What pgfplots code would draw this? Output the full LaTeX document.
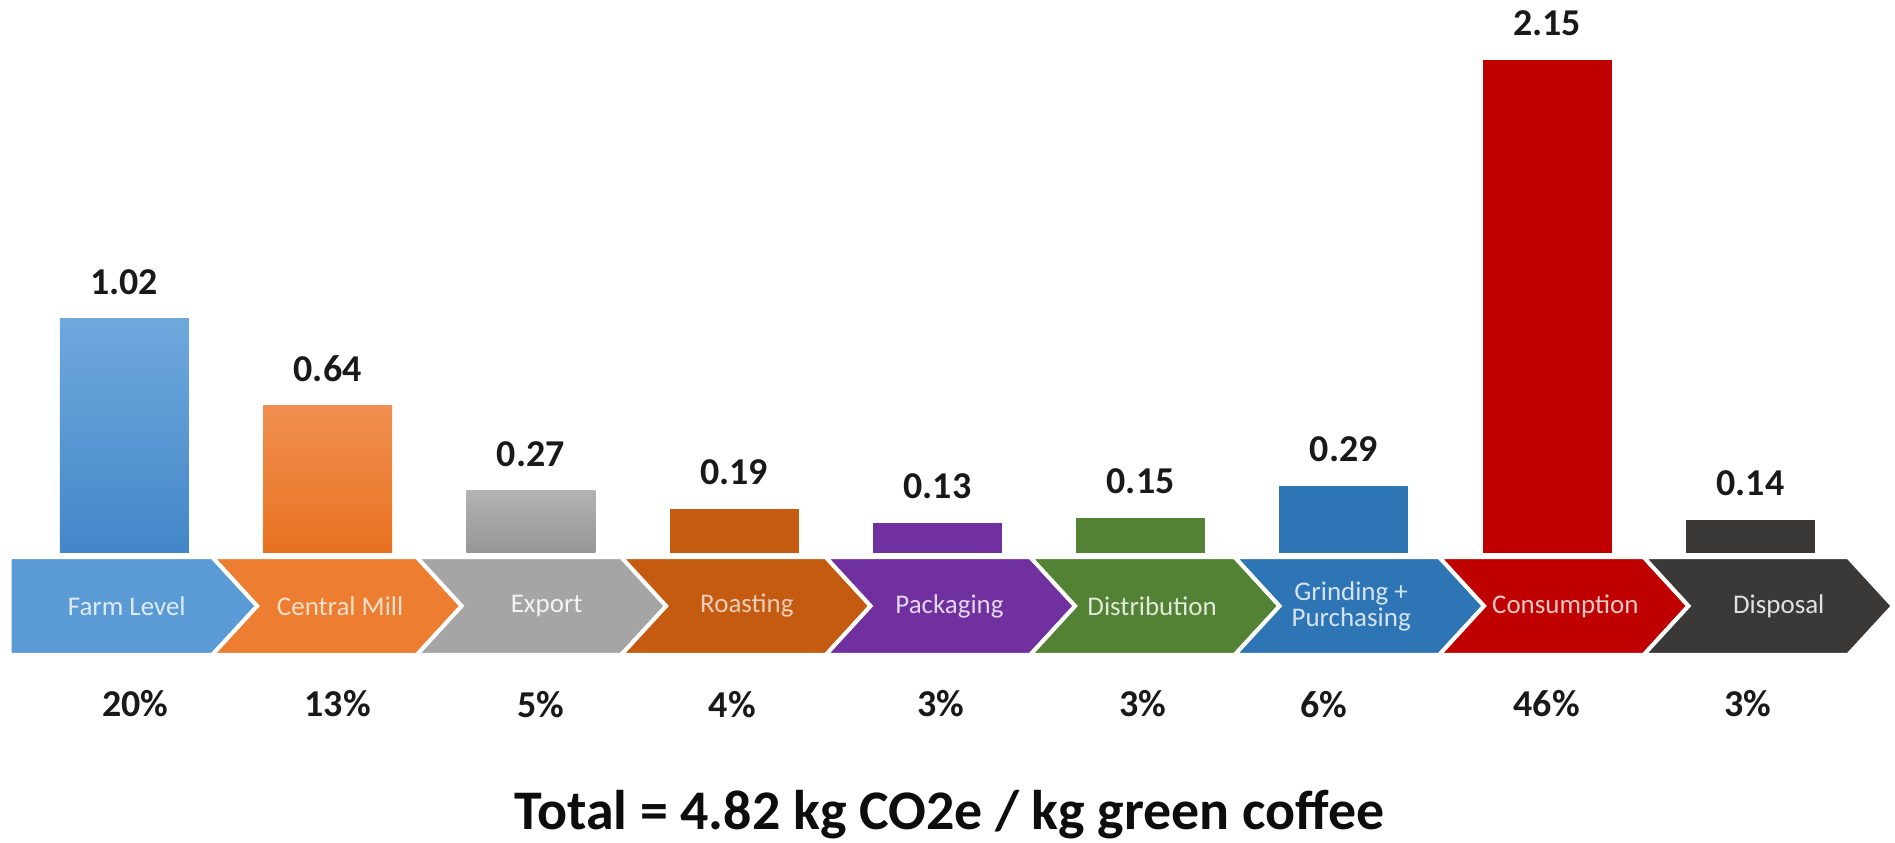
\documentclass[border=0pt]{standalone}
\usepackage{pgfplots}
\pgfplotsset{compat=1.18}
\usepackage{fontspec}
\setmainfont{Carlito}

\definecolor{cFarm}{HTML}{5B9BD5}
\definecolor{cFarmT}{HTML}{6EA9DD}
\definecolor{cFarmB}{HTML}{4386C8}
\definecolor{cMill}{HTML}{ED7D31}
\definecolor{cMillT}{HTML}{F08F50}
\definecolor{cMillB}{HTML}{E8711F}
\definecolor{cExp}{HTML}{A5A5A5}
\definecolor{cExpT}{HTML}{B2B2B2}
\definecolor{cExpB}{HTML}{979797}
\definecolor{cRoast}{HTML}{C55A11}
\definecolor{cPack}{HTML}{7030A0}
\definecolor{cDist}{HTML}{548235}
\definecolor{cGrind}{HTML}{2E75B6}
\definecolor{cCons}{HTML}{C00000}
\definecolor{cDisp}{HTML}{3B3838}

\newcommand{\chevfirst}[3]{%
  \fill[#3, draw=white, line width=2pt]
    (axis cs:#1,-0.0196) -- (axis cs:#2,-0.0196) -- (axis cs:{#2+0.221},-0.233)
    -- (axis cs:#2,-0.4464) -- (axis cs:#1,-0.4464) -- cycle;}
\newcommand{\chev}[3]{%
  \fill[#3, draw=white, line width=2pt]
    (axis cs:#1,-0.0196) -- (axis cs:#2,-0.0196) -- (axis cs:{#2+0.221},-0.233)
    -- (axis cs:#2,-0.4464) -- (axis cs:#1,-0.4464) -- (axis cs:{#1+0.221},-0.233) -- cycle;}

\begin{document}
\begin{tikzpicture}
\begin{axis}[
  scale only axis,
  width=947.5pt, height=422pt,
  xmin=-0.6115, xmax=8.696,
  ymin=-1.2652, ymax=2.4107,
  hide axis,
  clip=false,
  /pgf/number format/assume math mode=true,
  /pgf/number format/fixed,
  /pgf/number format/fixed zerofill,
  /pgf/number format/precision=2,
  every axis plot/.append style={ybar, bar width=0.635, bar shift=0pt, draw=none},
  nodes near coords,
  every node near coord/.append style={anchor=south, inner sep=0pt, yshift=12pt,
     text=black!90, font=\bfseries\fontsize{19}{19}\selectfont},
]
\path (rel axis cs:0,0) rectangle (rel axis cs:1,1);

% chevrons
\chevfirst{-0.564}{0.433}{cFarm}
\chev{0.433}{1.439}{cMill}
\chev{1.439}{2.445}{cExp}
\chev{2.445}{3.451}{cRoast}
\chev{3.451}{4.457}{cPack}
\chev{4.457}{5.463}{cDist}
\chev{5.463}{6.469}{cGrind}
\chev{6.469}{7.475}{cCons}
\chev{7.475}{8.481}{cDisp}

% bars
\addplot[top color=cFarmT, bottom color=cFarmB] coordinates {(0,1.02)};
\addplot[top color=cMillT, bottom color=cMillB] coordinates {(1,0.64)};
\addplot[top color=cExpT, bottom color=cExpB] coordinates {(2,0.27)};
\addplot[fill=cRoast] coordinates {(3,0.19)};
\addplot[fill=cPack] coordinates {(4,0.13)};
\addplot[fill=cDist] coordinates {(5,0.15)};
\addplot[fill=cGrind] coordinates {(6,0.29)};
\addplot[fill=cCons] coordinates {(7,2.15)};
\addplot[fill=cDisp] coordinates {(8,0.14)};

% chevron labels
\begin{scope}[every node/.style={font=\fontsize{13.5}{13}\selectfont, align=center, inner sep=0pt}]
\node[text=cFarm!20!white] at (axis cs:0.012,-0.233) {Farm Level};
\node[text=cMill!25!white] at (axis cs:1.062,-0.233) {Central Mill};
\node[text=cExp!12!white] at (axis cs:2.078,-0.233) {Export};
\node[text=cRoast!30!white] at (axis cs:3.063,-0.233) {Roasting};
\node[text=cPack!20!white] at (axis cs:4.06,-0.233) {Packaging};
\node[text=cDist!18!white] at (axis cs:5.057,-0.233) {Distribution};
\node[text=cGrind!20!white] at (axis cs:6.036,-0.233) {Grinding +\\Purchasing};
\node[text=cCons!22!white] at (axis cs:7.09,-0.233) {Consumption};
\node[text=cDisp!15!white] at (axis cs:8.14,-0.233) {Disposal};
\end{scope}

% percentages
\begin{scope}[every node/.style={font=\bfseries\fontsize{19}{19}\selectfont, text=black!90, inner sep=0pt}]
\node at (axis cs:0.053,-0.658) {20\%};
\node at (axis cs:1.05,-0.658) {13\%};
\node at (axis cs:2.048,-0.665) {5\%};
\node at (axis cs:2.992,-0.665) {4\%};
\node at (axis cs:4.018,-0.658) {3\%};
\node at (axis cs:5.01,-0.658) {3\%};
\node at (axis cs:5.9,-0.665) {6\%};
\node at (axis cs:6.998,-0.658) {46\%};
\node at (axis cs:7.989,-0.658) {3\%};
\end{scope}

% total
\node[font=\bfseries\fontsize{28}{28}\selectfont, text=black!95, inner sep=0pt]
  at (axis cs:4.06,-1.142) {Total = 4.82 kg CO2e / kg green coffee};
\end{axis}
\end{tikzpicture}
\end{document}
